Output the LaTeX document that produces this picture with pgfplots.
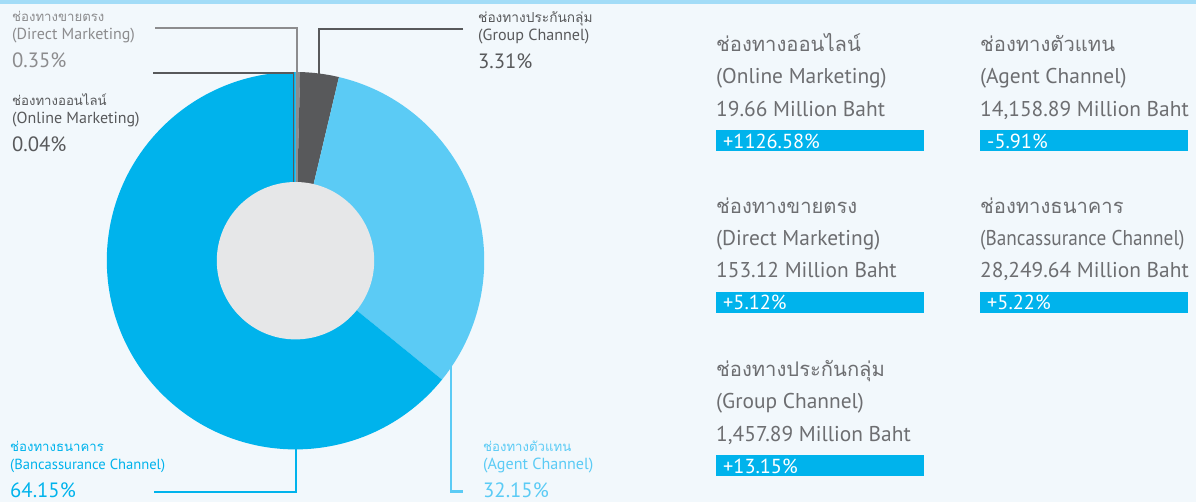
\documentclass[border=0pt]{standalone}
\usepackage{pgfplots}
\usepackage{pgfplotstable}
\usepackage{graphicx}
\pgfplotsset{compat=1.18}
\usepackage{fontspec}
\setmainfont{PT Sans}
\newfontfamily\thaif[Script=Thai]{Loma}
\newfontfamily\latf{PT Sans}

\definecolor{bg}{HTML}{F2F8FC}
\definecolor{band}{HTML}{A3DCF7}
\definecolor{cS0}{HTML}{58595B}
\definecolor{cS1}{HTML}{8C8C8E}
\definecolor{cS2}{HTML}{58595B}
\definecolor{cS3}{HTML}{5BCBF5}
\definecolor{cS4}{HTML}{00B3EC}
\definecolor{cInner}{HTML}{E6E7E8}
\definecolor{txt}{HTML}{6D6E71}
\definecolor{txtl}{HTML}{8C8C8E}
\definecolor{txtd}{HTML}{58595B}

% channel shares (%), clockwise from 12 o'clock
\pgfplotstableread{
pct
0.04
0.35
3.31
32.15
64.15
}\sharetable

\newcommand\TS[1]{\fontsize{#1bp}{#1bp}\selectfont}

% right-hand block: x, y(thai baseline), thai, english, value, change
\newcommand\rblock[6]{%
  \node[anchor=base west,inner sep=0pt,text=txt] at (axis cs:#1,#2) {\thaif\TS{20.2}#3};
  \node[anchor=base west,inner sep=0pt,text=txt] at (axis cs:#1,#2+32) {\latf\TS{21.4}#4};
  \node[anchor=base west,inner sep=0pt,text=txt] at (axis cs:#1,#2+64.7) {\latf\TS{21.4}#5};
  \fill[cS4] (axis cs:#1,#2+78.5) rectangle (axis cs:#1+207.5,#2+99.5);
  \node[anchor=base west,inner sep=0pt,text=white] at (axis cs:#1+7,#2+96.5) {\latf\TS{20.3}#6};
}
% left label: x, y(thai baseline), colour, thai, english, percent, thai size, english size
\newcommand\lblock[8]{%
  \node[anchor=base west,inner sep=0pt,text=#3] at (axis cs:#1,#2) {\thaif\TS{#7}#4};
  \node[anchor=base west,inner sep=0pt,text=#3] at (axis cs:#1,#2+18) {\latf\TS{#8}#5};
  \node[anchor=base west,inner sep=0pt,text=#3] at (axis cs:#1,#2+46) {\latf\TS{20.7}#6};
}

\begin{document}
\begin{tikzpicture}
\begin{axis}[
  width=1196bp, height=502bp, scale only axis,
  xmin=0, xmax=1196, ymin=0, ymax=502, y dir=reverse,
  hide axis, clip=false,
]
% background
\pgfplotsextra{%
  \fill[bg] (axis cs:0,0) rectangle (axis cs:1196,502);
  \fill[band] (axis cs:0,0) rectangle (axis cs:1196,4.5);
}
% donut segments from the table
\pgfplotsextra{%
  \xdef\angA{90}%
  \pgfplotstableforeachcolumnelement{pct}\of\sharetable\as\p{%
    \pgfmathsetmacro\angB{\angA-3.6*\p}%
    \fill[cS\pgfplotstablerow] (axis cs:295.5,260.7) -- ++(\angA:188.7bp)
       arc[start angle=\angA,end angle=\angB,radius=188.7bp] -- cycle;
    \xdef\angA{\angB}%
  }%
}
% callout lines
\draw[txtl,line width=2bp] (axis cs:155,28) -- (axis cs:297.2,28) -- (axis cs:297.2,185);
\draw[cS0,line width=1.6bp] (axis cs:153,73) -- (axis cs:293.6,73) -- (axis cs:293.6,185);
\draw[cS2,line width=2bp] (axis cs:463,29) -- (axis cs:319,29) -- (axis cs:319,74);
\draw[cS4,line width=2bp] (axis cs:154,491.5) -- (axis cs:296,491.5) -- (axis cs:296,447);
\draw[cS3,line width=2.4bp] (axis cs:451,366) -- (axis cs:451,491.5) -- (axis cs:463,491.5);
% inner hole
\pgfplotsextra{\fill[cInner] (axis cs:295.5,260.7) circle[radius=78.7bp];}

% left labels
\lblock{12}{22}{txtl}{ช่องทางขายตรง}{(Direct Marketing)}{0.35\%}{13.2}{16}
\lblock{12}{105}{txtd}{ช่องทางออนไลน์}{(Online Marketing)}{0.04\%}{13.2}{16}
\lblock{478}{23}{txtd}{ช่องทางประกันกลุ่ม}{(Group Channel)}{3.31\%}{13.7}{16.1}
\lblock{10}{451}{cS4}{ช่องทางธนาคาร}{(Bancassurance Channel)}{64.15\%}{13.2}{14.6}
\lblock{483}{451}{cS3}{ช่องทางตัวแทน}{(Agent Channel)}{32.15\%}{13.2}{16.1}

% right panel
\rblock{716}{51.5}{ช่องทางออนไลน์}{(Online Marketing)}{19.66 Million Baht}{+1126.58\%}
\rblock{980}{51.5}{ช่องทางตัวแทน}{(Agent Channel)}{14,158.89 Million Baht}{-5.91\%}
\rblock{716}{213}{ช่องทางขายตรง}{(Direct Marketing)}{153.12 Million Baht}{+5.12\%}
\rblock{980}{213}{ช่องทางธนาคาร}{\scalebox{0.9}[1]{(Bancassurance Channel)}}{28,249.64 Million Baht}{+5.22\%}
\rblock{716}{376.5}{ช่องทางประกันกลุ่ม}{(Group Channel)}{1,457.89 Million Baht}{+13.15\%}
\end{axis}
\end{tikzpicture}
\end{document}
